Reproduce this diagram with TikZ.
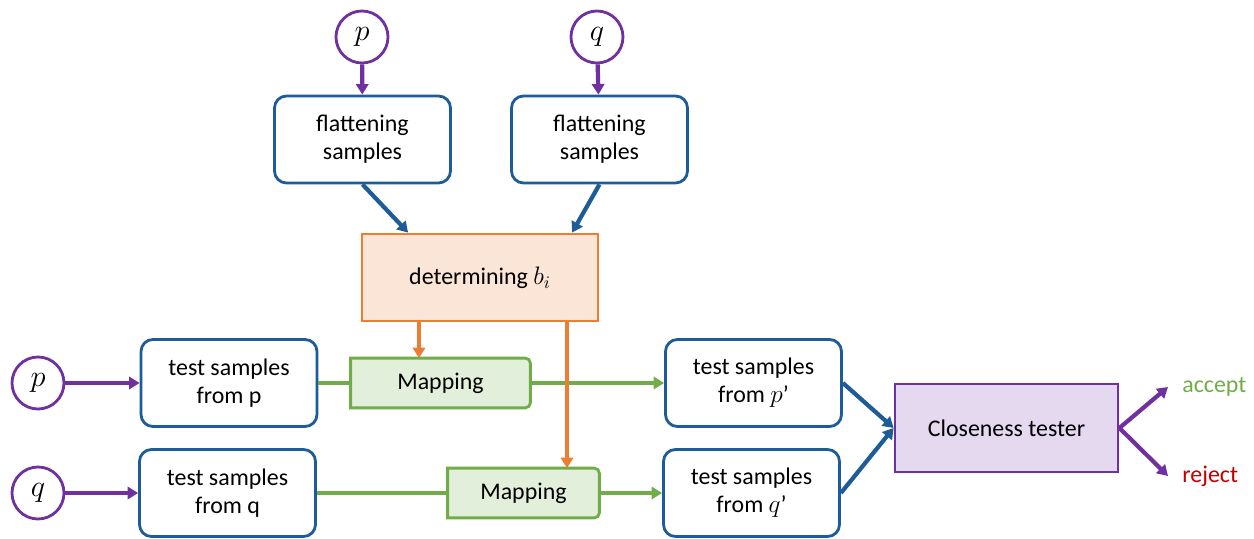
\documentclass[tikz,border=0pt]{standalone}
\usepackage{fontspec}
\setmainfont{Carlito}
\usepackage{xcolor}
\usepackage{tikz}
\usetikzlibrary{arrows.meta,backgrounds}
\definecolor{FlowBlue}{HTML}{1D5C99}
\definecolor{FlowPurple}{HTML}{7030A0}
\definecolor{FlowOrange}{HTML}{ED7D31}
\definecolor{OrangeFill}{HTML}{FBE5D6}
\definecolor{FlowGreen}{HTML}{70AD47}
\definecolor{GreenFill}{HTML}{E2EFDA}
\definecolor{LilacFill}{HTML}{E4D9EF}
\definecolor{RejectRed}{HTML}{C00000}

\begin{document}
\begin{tikzpicture}[x=1cm,y=1cm,
  font=\fontsize{13.6}{15.9}\selectfont,
  src/.style={circle,draw=FlowPurple,line width=1.6pt,minimum size=1.04cm,inner sep=0pt,font=\fontsize{16}{18}\selectfont},
  sampbox/.style={draw=FlowBlue,line width=1.6pt,rounded corners=0.24cm,align=center,minimum width=3.52cm,minimum height=1.74cm},
  mapnode/.style={minimum height=0.98cm,inner sep=0pt},
  headtip/.style={-{Triangle[length=6pt,width=7pt]}},
  purpleln/.style={headtip,FlowPurple,line width=2.4pt},
  blueln/.style={headtip,FlowBlue,line width=2.4pt},
  orangeln/.style={headtip,FlowOrange,line width=2.4pt},
  greenln/.style={FlowGreen,line width=2.4pt}]
\path[use as bounding box] (0,0) rectangle (25.08,10.76);
% sources
\node[src] (ptop) at (7.24,10.02) {$p$};
\node[src] (qtop) at (11.94,10.02) {$q$};
\node[src] (pleft) at (0.76,3.10) {$p$};
\node[src] (qleft) at (0.76,0.90) {$q$};
% boxes
\node[sampbox] (flat1) at (7.25,7.97) {flattening\\samples};
\node[sampbox] (flat2) at (11.99,7.97) {flattening\\samples};
\node[draw=FlowOrange,fill=OrangeFill,line width=1.6pt,minimum width=4.72cm,minimum height=1.74cm] (det) at (9.60,5.21) {determining $b_i$};
\node[sampbox] (testp) at (4.58,3.10) {test samples\\from p};
\node[sampbox] (testq) at (4.55,0.90) {test samples\\from q};
\node[mapnode,minimum width=3.58cm] (map1) at (8.81,3.10) {Mapping};
\node[mapnode,minimum width=3.02cm] (map2) at (10.47,0.90) {Mapping};
\node[sampbox] (testp2) at (15.07,3.10) {test samples\\from $p$’};
\node[sampbox] (testq2) at (15.03,0.90) {test samples\\from $q$’};
\node[draw=FlowPurple,fill=LilacFill,line width=1.6pt,minimum width=4.46cm,minimum height=1.76cm] (close) at (20.13,2.20) {Closeness tester};
\node[text=FlowGreen,anchor=west,inner sep=0.28cm] (acc) at (23.36,3.02) {accept};
\node[text=RejectRed,anchor=west,inner sep=0.28cm] (rej) at (23.36,1.24) {reject};
% mapping shapes
\begin{scope}[on background layer]
\foreach \m in {map1,map2}
  \draw[draw=FlowGreen,fill=GreenFill,line width=1.6pt] (\m.south west) -- (\m.north west)
    -- ([xshift=-0.1cm]\m.north east) arc[start angle=90,end angle=0,radius=0.1cm]
    -- ([yshift=0.1cm]\m.south east) arc[start angle=0,end angle=-90,radius=0.1cm] -- cycle;
\end{scope}
% connectors
\draw[purpleln] (ptop) -- (flat1);
\draw[purpleln] (qtop) -- (flat2);
\draw[purpleln] (pleft) -- (testp);
\draw[purpleln] (qleft) -- (testq);
\draw[blueln] (flat1.south) -- (det.148);
\draw[blueln] (flat2.south) -- (det.26);
\draw[greenln] (testp) -- (map1);
\draw[greenln,headtip] (map1) -- (testp2);
\draw[greenln] (testq) -- (map2);
\draw[greenln,headtip] (map2) -- (testq2);
\draw[orangeln] ([xshift=-1.22cm]det.south) -- ([xshift=-1.22cm]det.south |- map1.north);
\draw[orangeln] ([xshift=1.74cm]det.south) -- ([xshift=1.74cm]det.south |- map2.north);
\draw[blueln] (testp2.east) -- (close.west);
\draw[blueln] (testq2.east) -- (close.west);
\draw[purpleln] (close.east) -- (acc.west);
\draw[purpleln] (close.east) -- (rej.west);
\end{tikzpicture}
\end{document}
